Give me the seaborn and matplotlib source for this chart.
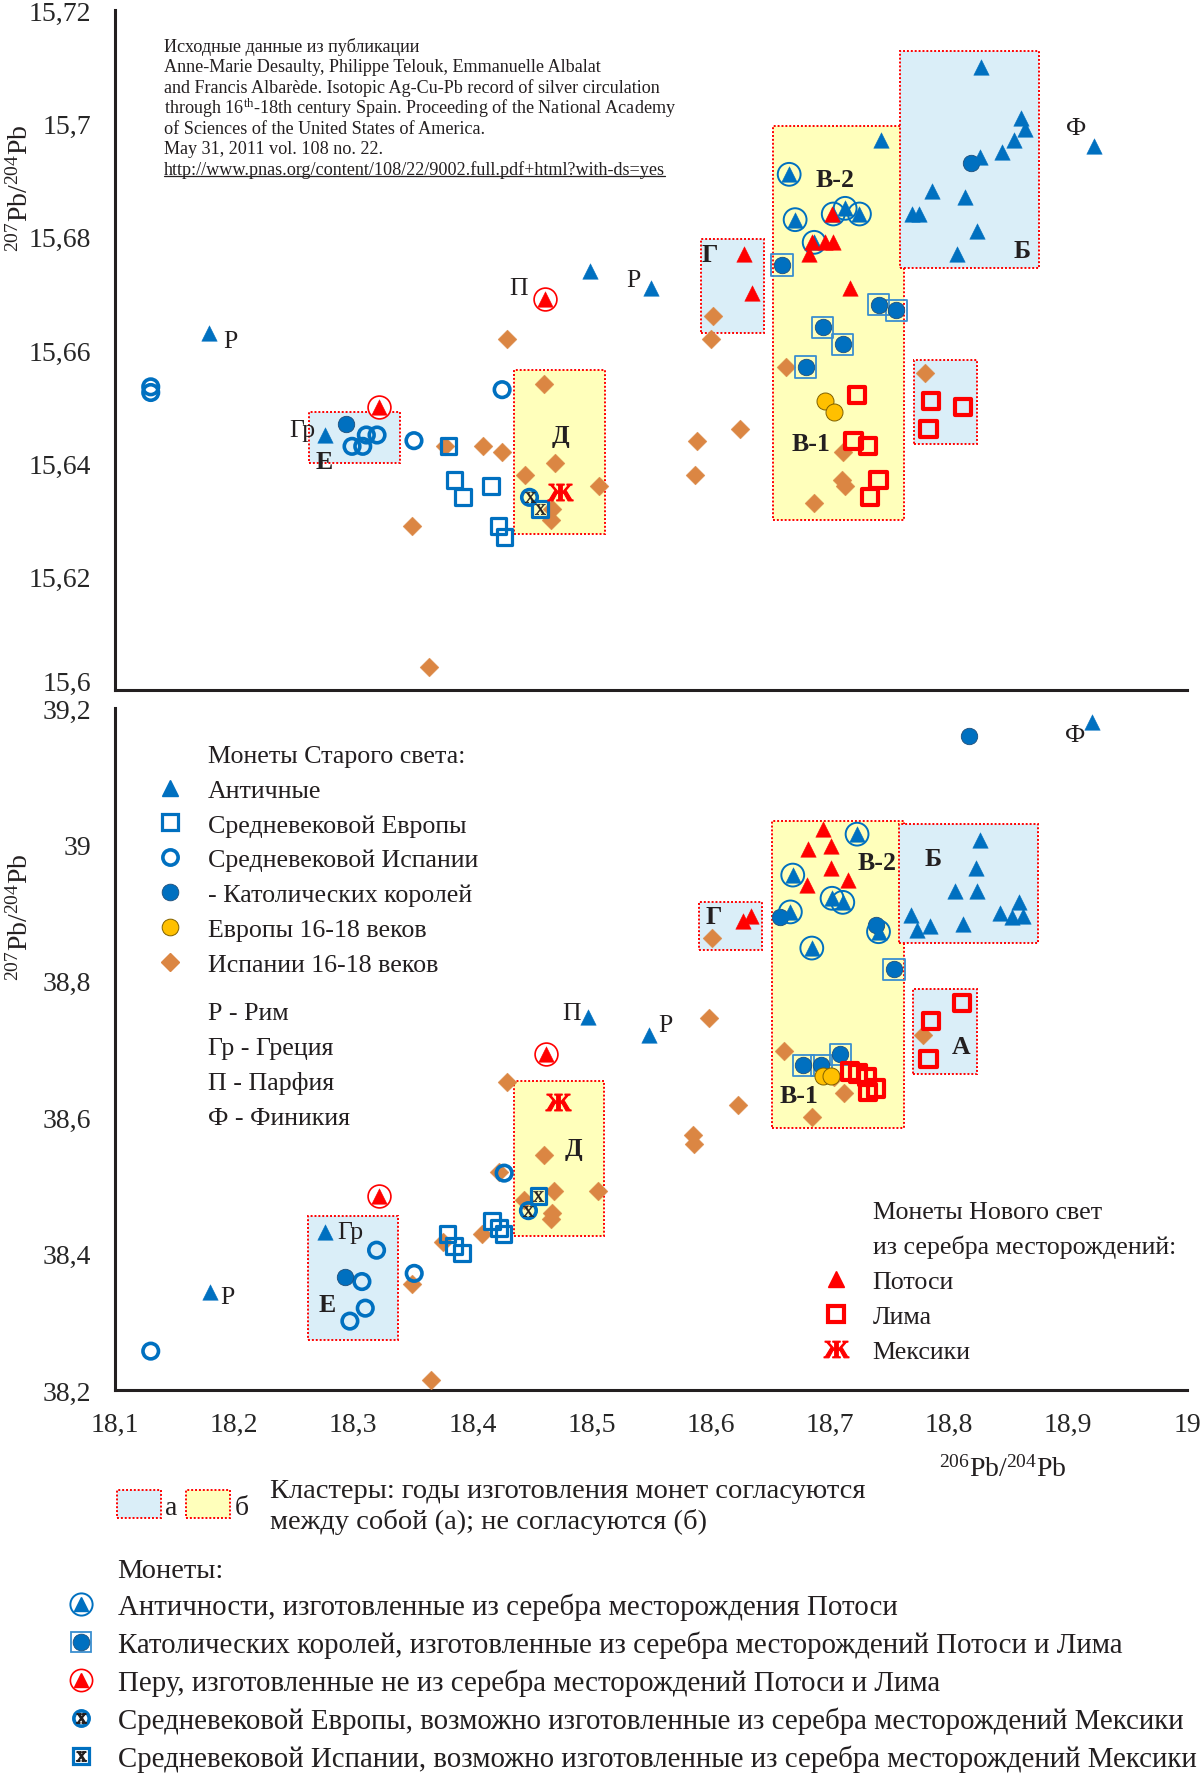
import pandas as pd
import seaborn as sns
import matplotlib.pyplot as plt
import matplotlib.transforms as mtransforms
from matplotlib.lines import Line2D
from matplotlib.patches import Rectangle, Patch

sns.set_theme(style="white")
plt.rcParams['font.family'] = ['Liberation Serif', 'DejaVu Serif']
plt.rcParams['mathtext.fontset'] = 'custom'
plt.rcParams['mathtext.rm'] = 'Liberation Serif'
plt.rcParams['mathtext.it'] = 'Liberation Serif:italic'
plt.rcParams['mathtext.bf'] = 'Liberation Serif:bold'
plt.rcParams['text.color'] = '#231f20'

BLUE = '#0070c0'
RED = '#ff0000'
ORANGE = '#db8643'
GOLD = '#ffc000'
BOX_A = '#daeef8'
BOX_B = '#ffffbb'
ZHE = '$\\mathbf{Ж}$'

# ---------------- upper panel: 207Pb/204Pb vs 206Pb/204Pb ----------------
up_ancient = [(18.179, 15.663), (18.276, 15.645), (18.499, 15.674), (18.550, 15.671),
              (18.743, 15.697), (18.827, 15.710), (18.861, 15.701), (18.864, 15.699),
              (18.855, 15.697), (18.845, 15.695), (18.826, 15.694), (18.786, 15.688),
              (18.814, 15.687), (18.769, 15.684), (18.775, 15.684), (18.824, 15.681),
              (18.807, 15.677), (18.922, 15.696)]
up_ancient_potosi = [(18.666, 15.691), (18.671, 15.683), (18.687, 15.679), (18.703, 15.684),
                     (18.713, 15.685), (18.725, 15.684)]
up_potosi = [(18.628, 15.677), (18.635, 15.670), (18.685, 15.679), (18.696, 15.679),
             (18.703, 15.679), (18.683, 15.677), (18.717, 15.671), (18.702, 15.684)]
up_peru = [(18.322, 15.650), (18.461, 15.669)]
up_catholic = [(18.294, 15.647), (18.819, 15.693)]
up_catholic_pl = [(18.660, 15.675), (18.741, 15.668), (18.756, 15.667), (18.694, 15.664),
                  (18.711, 15.661), (18.680, 15.657)]
up_europe16 = [(18.696, 15.651), (18.704, 15.649)]
up_med_spain = [(18.130, 15.6535), (18.130, 15.6525), (18.299, 15.643), (18.308, 15.643),
                (18.311, 15.645), (18.320, 15.645), (18.351, 15.644), (18.425, 15.653)]
up_med_spain_mex = [(18.448, 15.634)]
up_med_europe = [(18.380, 15.643), (18.385, 15.637), (18.392, 15.634), (18.416, 15.636),
                 (18.422, 15.629), (18.427, 15.627)]
up_med_europe_mex = [(18.457, 15.632)]
up_spain16 = [(18.377, 15.643), (18.409, 15.643), (18.425, 15.642), (18.349, 15.629),
              (18.460, 15.654), (18.469, 15.640), (18.444, 15.638), (18.506, 15.636),
              (18.467, 15.632), (18.466, 15.630), (18.364, 15.604), (18.429, 15.662),
              (18.602, 15.666), (18.600, 15.662), (18.663, 15.657), (18.625, 15.646),
              (18.589, 15.644), (18.587, 15.638), (18.711, 15.642), (18.710, 15.637),
              (18.713, 15.636), (18.687, 15.633), (18.780, 15.656)]
up_lima = [(18.723, 15.652), (18.720, 15.644), (18.732, 15.643), (18.741, 15.637),
           (18.734, 15.634), (18.785, 15.651), (18.812, 15.650), (18.783, 15.646)]
up_mexico = [(18.474, 15.635)]
# clusters: x0, x1, y0, y1, kind
up_boxes = [(18.2625, 18.339, 15.640, 15.649, 'a'), (18.435, 18.511, 15.6275, 15.6565, 'b'),
            (18.592, 18.645, 15.663, 15.6795, 'a'), (18.6525, 18.7625, 15.630, 15.6996, 'b'),
            (18.759, 18.876, 15.6745, 15.7128, 'a'), (18.7705, 18.824, 15.6434, 15.6583, 'a')]
up_labels = [(18.197, 15.6615, 'Р', False), (18.2575, 15.6459, 'Гр', False),
             (18.2757, 15.6404, 'Е', True), (18.439, 15.671, 'П', False),
             (18.535, 15.6724, 'Р', False), (18.9066, 15.6991, 'Ф', False),
             (18.5996, 15.6769, 'Г', True), (18.7043, 15.6901, 'В-2', True),
             (18.684, 15.6435, 'В-1', True), (18.8618, 15.6775, 'Б', True),
             (18.474, 15.645, 'Д', True)]

# ---------------- lower panel: 208Pb/204Pb vs 206Pb/204Pb ----------------
lo_ancient = [(18.180, 38.344), (18.2765, 38.431), (18.497, 38.747), (18.548, 38.720),
              (18.9206, 39.180), (18.826, 39.007), (18.823, 38.966), (18.805, 38.931),
              (18.824, 38.931), (18.768, 38.897), (18.773, 38.875), (18.784, 38.880),
              (18.812, 38.884), (18.843, 38.899), (18.859, 38.915), (18.853, 38.893),
              (18.862, 38.895)]
lo_ancient_potosi = [(18.723, 39.015), (18.669, 38.955), (18.702, 38.921), (18.711, 38.915),
                     (18.667, 38.901), (18.741, 38.872), (18.685, 38.848)]
lo_potosi = [(18.694, 39.022), (18.682, 38.993), (18.701, 38.997), (18.701, 38.966),
             (18.715, 38.948), (18.681, 38.941), (18.627, 38.888), (18.634, 38.895)]
lo_peru = [(18.3213, 38.484), (18.4617, 38.692)]
lo_catholic = [(18.2933, 38.365), (18.817, 39.159), (18.658, 38.894), (18.739, 38.882)]
lo_catholic_pl = [(18.754, 38.817), (18.709, 38.692), (18.693, 38.676), (18.678, 38.676)]
lo_europe16 = [(18.694, 38.660), (18.701, 38.660)]
lo_med_spain = [(18.130, 38.257), (18.3196, 38.405), (18.3073, 38.359), (18.3101, 38.320),
                (18.2972, 38.301), (18.3512, 38.371), (18.4267, 38.518)]
lo_med_spain_mex = [(18.4471, 38.463)]
lo_med_europe = [(18.3792, 38.429), (18.3848, 38.411), (18.391, 38.401), (18.4162, 38.448),
                 (18.4225, 38.438), (18.4262, 38.429)]
lo_med_europe_mex = [(18.4555, 38.485)]
lo_spain16 = [(18.349, 38.355), (18.3756, 38.417), (18.408, 38.429), (18.422, 38.519),
              (18.4288, 38.652), (18.4598, 38.544), (18.4687, 38.492), (18.5056, 38.492),
              (18.4435, 38.479), (18.4673, 38.460), (18.4659, 38.451), (18.3652, 38.215),
              (18.599, 38.746), (18.585, 38.574), (18.586, 38.561), (18.623, 38.618),
              (18.601, 38.863), (18.662, 38.697), (18.712, 38.636), (18.685, 38.600),
              (18.778, 38.721), (18.704, 38.659)]
lo_lima = [(18.717, 38.667), (18.724, 38.664), (18.731, 38.659), (18.732, 38.637),
           (18.739, 38.642), (18.811, 38.767), (18.785, 38.741), (18.783, 38.685)]
lo_mexico = [(18.4723, 38.623)]
lo_boxes = [(18.2617, 18.3378, 38.273, 38.4544, 'a'), (18.4346, 18.5107, 38.426, 38.653, 'b'),
            (18.590, 18.6436, 38.845, 38.915, 'a'), (18.652, 18.762, 38.584, 39.034, 'b'),
            (18.758, 18.875, 38.8552, 39.0293, 'a'), (18.770, 18.8235, 38.664, 38.788, 'a')]
lo_labels = [(18.1946, 38.336, 'Р', False), (18.298, 38.432, 'Гр', False),
             (18.2785, 38.326, 'Е', True), (18.4837, 38.753, 'П', False),
             (18.562, 38.735, 'Р', False), (18.906, 39.161, 'Ф', False),
             (18.603, 38.895, 'Г', True), (18.740, 38.973, 'В-2', True),
             (18.7868, 38.979, 'Б', True), (18.8106, 38.703, 'А', True),
             (18.6743, 38.632, 'В-1', True), (18.485, 38.554, 'Д', True)]

x_ticks = [18.1, 18.2, 18.3, 18.4, 18.5, 18.6, 18.7, 18.8, 18.9, 19.0]
x_ticklabels = ['18,1', '18,2', '18,3', '18,4', '18,5', '18,6', '18,7', '18,8', '18,9', '19']
up_yticks = [15.6, 15.62, 15.64, 15.66, 15.68, 15.7, 15.72]
up_yticklabels = ['15,6', '15,62', '15,64', '15,66', '15,68', '15,7', '15,72']
lo_yticks = [38.2, 38.4, 38.6, 38.8, 39.0, 39.2]
lo_yticklabels = ['38,2', '38,4', '38,6', '38,8', '39', '39,2']

ref_lines = ['Исходные данные из публикации',
             'Anne-Marie Desaulty, Philippe Telouk, Emmanuelle Albalat',
             'and Francis Albarède. Isotopic Ag-Cu-Pb record of silver circulation',
             'through 16$^{\\mathrm{th}}$-18th century Spain. Proceeding of the National Academy',
             'of Sciences of the United States of America.',
             'May 31, 2011 vol. 108 no. 22.',
             'http://www.pnas.org/content/108/22/9002.full.pdf+html?with-ds=yes']

# marker styles
ST = {
    'spain16': dict(marker='D', s=92, color=ORANGE, edgecolor=ORANGE, linewidth=0.3, zorder=3),
    'med_europe': dict(marker='s', s=130, color=BLUE, facecolor='none', edgecolor=BLUE, linewidth=2.3, zorder=4),
    'med_spain': dict(marker='o', s=125, color=BLUE, facecolor='none', edgecolor=BLUE, linewidth=2.6, zorder=4),
    'catholic': dict(marker='o', s=140, color=BLUE, edgecolor='#1f4e79', linewidth=0.6, zorder=5),
    'frame': dict(marker='s', s=230, color='#3a8fd0', facecolor='none', edgecolor='#3a8fd0', linewidth=1.3, zorder=5),
    'europe16': dict(marker='o', s=150, color=GOLD, edgecolor='#7f6000', linewidth=0.7, zorder=5),
    'lima': dict(marker='s', s=135, color=RED, facecolor='none', edgecolor=RED, linewidth=3.0, zorder=5),
    'ancient': dict(marker='^', s=125, color=BLUE, edgecolor=BLUE, linewidth=0.3, zorder=6),
    'ring': dict(marker='o', s=270, color=BLUE, facecolor='none', edgecolor=BLUE, linewidth=1.4, zorder=6),
    'potosi': dict(marker='^', s=125, color=RED, edgecolor=RED, linewidth=0.3, zorder=7),
    'red_ring': dict(marker='o', s=270, color=RED, facecolor='white', edgecolor=RED, linewidth=1.2, zorder=6),
    'mexico': dict(marker=ZHE, s=330, color=RED, edgecolor=RED, linewidth=0.8, zorder=7),
    'xmark': dict(marker='$\\mathrm{x}$', s=60, color='#231f20', edgecolor='#231f20', linewidth=0.3, zorder=8),
}


def draw(ax, data, style):
    df = pd.DataFrame(data, columns=['x', 'y'])
    sns.scatterplot(data=df, x='x', y='y', ax=ax, legend=False, **ST[style])


def panel(ax, d, boxes, labels):
    for x0, x1, y0, y1, kind in boxes:
        ax.add_patch(Rectangle((x0, y0), x1 - x0, y1 - y0, facecolor=BOX_A if kind == 'a' else BOX_B,
                               edgecolor=RED, linestyle=(0, (1, 1)), linewidth=1.4, zorder=1))
    draw(ax, d['spain16'], 'spain16')
    draw(ax, d['med_europe'] + d['med_europe_mex'], 'med_europe')
    draw(ax, d['med_spain'] + d['med_spain_mex'], 'med_spain')
    draw(ax, d['catholic_pl'], 'frame')
    draw(ax, d['catholic'] + d['catholic_pl'], 'catholic')
    draw(ax, d['europe16'], 'europe16')
    draw(ax, d['lima'], 'lima')
    draw(ax, d['ancient_potosi'], 'ring')
    draw(ax, d['ancient'] + d['ancient_potosi'], 'ancient')
    draw(ax, d['peru'], 'red_ring')
    draw(ax, d['potosi'] + d['peru'], 'potosi')
    draw(ax, d['mexico'], 'mexico')
    draw(ax, d['med_spain_mex'] + d['med_europe_mex'], 'xmark')
    for x, y, t, b in labels:
        ax.text(x, y, t, ha='center', va='center', fontsize=18.5,
                fontweight='bold' if b else 'normal', zorder=9)
    ax.set_xlim(18.1, 19.0)
    ax.set_xticks(x_ticks)
    ax.set_xlabel('')
    ax.set_ylabel('')
    for s in ('top', 'right'):
        ax.spines[s].set_visible(False)
    for s in ('left', 'bottom'):
        ax.spines[s].set_color('#231f20')
        ax.spines[s].set_linewidth(2.2)


W, H = 1200, 1774
fig = plt.figure(figsize=(12, 17.74), dpi=100)


def fx(px):
    return px / W


def fy(py):
    return 1 - py / H


ax_up = fig.add_axes([fx(115), fy(691), 1072 / W, (691 - 11) / H])
ax_lo = fig.add_axes([fx(115), fy(1391), 1072 / W, (1391 - 709) / H])

up = dict(ancient=up_ancient, ancient_potosi=up_ancient_potosi, potosi=up_potosi, peru=up_peru,
          catholic=up_catholic, catholic_pl=up_catholic_pl, europe16=up_europe16,
          med_spain=up_med_spain, med_spain_mex=up_med_spain_mex, med_europe=up_med_europe,
          med_europe_mex=up_med_europe_mex, spain16=up_spain16, lima=up_lima, mexico=up_mexico)
lo = dict(ancient=lo_ancient, ancient_potosi=lo_ancient_potosi, potosi=lo_potosi, peru=lo_peru,
          catholic=lo_catholic, catholic_pl=lo_catholic_pl, europe16=lo_europe16,
          med_spain=lo_med_spain, med_spain_mex=lo_med_spain_mex, med_europe=lo_med_europe,
          med_europe_mex=lo_med_europe_mex, spain16=lo_spain16, lima=lo_lima, mexico=lo_mexico)

panel(ax_up, up, up_boxes, up_labels)
panel(ax_lo, lo, lo_boxes, lo_labels)

ax_up.set_ylim(15.6, 15.72)
ax_up.set_yticks(up_yticks)
ax_up.set_yticklabels(up_yticklabels)
ax_up.tick_params(axis='x', direction='inout', length=9, width=2, labelbottom=False, color='#231f20')
ax_up.tick_params(axis='y', direction='out', length=7, width=2, labelsize=20, pad=10, color='#231f20')
# nudge the lowest label so it does not collide with the lower panel
off = mtransforms.ScaledTranslation(0, 10 / 100, fig.dpi_scale_trans)
lab = ax_up.get_yticklabels()[0]
lab.set_transform(lab.get_transform() + off)

ax_lo.set_ylim(38.2, 39.2)
ax_lo.set_yticks(lo_yticks)
ax_lo.set_yticklabels(lo_yticklabels)
ax_lo.set_xticklabels(x_ticklabels)
ax_lo.tick_params(axis='x', direction='out', length=8, width=2, labelsize=20, pad=8, color='#231f20')
ax_lo.tick_params(axis='y', direction='out', length=7, width=2, labelsize=20, pad=10, color='#231f20')

# axis titles
fig.text(fx(20), fy(188), r'$^{207}$Pb/$^{204}$Pb', rotation=90, ha='center', va='center', fontsize=20)
fig.text(fx(20), fy(917), r'$^{207}$Pb/$^{204}$Pb', rotation=90, ha='center', va='center', fontsize=20)
fig.text(fx(1003), fy(1469), r'$^{206}$Pb/$^{204}$Pb', ha='center', va='center', fontsize=20)

# source note
url_txt = None
for i, line in enumerate(ref_lines):
    url_txt = fig.text(fx(163.5), fy(47 + i * 20.5), line, ha='left', va='center', fontsize=13.1)

# old world legend
fig.text(fx(208), fy(757), 'Монеты Старого света:', ha='left', va='center', fontsize=18.7)
old_handles = [
    Line2D([], [], ls='none', marker='^', ms=11, color=BLUE),
    Line2D([], [], ls='none', marker='s', ms=11.5, mfc='none', mec=BLUE, mew=2.3),
    Line2D([], [], ls='none', marker='o', ms=11, mfc='none', mec=BLUE, mew=2.6),
    Line2D([], [], ls='none', marker='o', ms=12, mfc=BLUE, mec='#1f4e79', mew=0.6),
    Line2D([], [], ls='none', marker='o', ms=12, mfc=GOLD, mec='#7f6000', mew=0.7),
    Line2D([], [], ls='none', marker='D', ms=9.5, color=ORANGE),
]
old_labels = ['Античные', 'Средневековой Европы', 'Средневековой Испании',
              '- Католических королей', 'Европы 16-18 веков', 'Испании 16-18 веков']
fig.legend(old_handles, old_labels, loc='upper left', bbox_to_anchor=(fx(157), fy(779.5)),
           frameon=False, fontsize=18.7, handlelength=1.0, handletextpad=0.95,
           labelspacing=0.45, borderpad=0, borderaxespad=0)
for i, t in enumerate(['Р - Рим', 'Гр - Греция', 'П - Парфия', 'Ф - Финикия']):
    fig.text(fx(208), fy(1014.5 + i * 34.7), t, ha='left', va='center', fontsize=18.7)

# new world legend
fig.text(fx(872.7), fy(1213), 'Монеты Нового свет', ha='left', va='center', fontsize=18.7)
fig.text(fx(872.7), fy(1247), 'из серебра месторождений:', ha='left', va='center', fontsize=18.7)
new_handles = [
    Line2D([], [], ls='none', marker='^', ms=11, color=RED),
    Line2D([], [], ls='none', marker='s', ms=12, mfc='none', mec=RED, mew=3),
    Line2D([], [], ls='none', marker=ZHE, ms=18, color=RED, mew=0.8),
]
fig.legend(new_handles, ['Потоси', 'Лима', 'Мексики'], loc='upper left',
           bbox_to_anchor=(fx(823), fy(1271)), frameon=False, fontsize=18.7,
           handlelength=1.0, handletextpad=0.9, labelspacing=0.45, borderpad=0, borderaxespad=0)

# cluster legend
box_handles = [Patch(facecolor=BOX_A, edgecolor=RED, linestyle=(0, (1, 1)), linewidth=1.4),
               Patch(facecolor=BOX_B, edgecolor=RED, linestyle=(0, (1, 1)), linewidth=1.4)]
fig.legend(box_handles, ['а', 'б'], loc='upper left', bbox_to_anchor=(fx(116.6), fy(1491)),
           ncol=2, frameon=False, fontsize=20, handlelength=1.6, handleheight=1.2,
           handletextpad=0.15, columnspacing=0.3, borderpad=0, borderaxespad=0)
fig.text(fx(270.5), fy(1492), 'Кластеры: годы изготовления монет согласуются',
         ha='left', va='center', fontsize=20.5)
fig.text(fx(270.5), fy(1522), 'между собой (а); не согласуются (б)',
         ha='left', va='center', fontsize=20.5)

# special coins legend
fig.text(fx(117.4), fy(1572), 'Монеты:', ha='left', va='center', fontsize=20.5)
spec_handles = [
    (Line2D([], [], ls='none', marker='o', ms=16, mfc='none', mec=BLUE, mew=1.4),
     Line2D([], [], ls='none', marker='^', ms=10, color=BLUE)),
    (Line2D([], [], ls='none', marker='s', ms=15, mfc='none', mec='#3a8fd0', mew=1.3),
     Line2D([], [], ls='none', marker='o', ms=12, mfc=BLUE, mec='#1f4e79', mew=0.6)),
    (Line2D([], [], ls='none', marker='o', ms=16, mfc='white', mec=RED, mew=1.2),
     Line2D([], [], ls='none', marker='^', ms=10, color=RED)),
    (Line2D([], [], ls='none', marker='o', ms=11, mfc='none', mec=BLUE, mew=2.6),
     Line2D([], [], ls='none', marker='$\\mathrm{x}$', ms=7, color='#231f20')),
    (Line2D([], [], ls='none', marker='s', ms=11.5, mfc='none', mec=BLUE, mew=2.3),
     Line2D([], [], ls='none', marker='$\\mathrm{x}$', ms=7, color='#231f20')),
]
spec_labels = ['Античности, изготовленные из серебра месторождения Потоси',
               'Католических королей, изготовленные из серебра месторождений Потоси и Лима',
               'Перу, изготовленные не из серебра месторождений Потоси и Лима',
               'Средневековой Европы, возможно изготовленные из серебра месторождений Мексики',
               'Средневековой Испании, возможно изготовленные из серебра месторождений Мексики']
fig.legend(spec_handles, spec_labels, loc='upper left', bbox_to_anchor=(fx(67), fy(1594)),
           frameon=False, fontsize=20.8, handlelength=1.0, handletextpad=0.78,
           labelspacing=0.36, borderpad=0, borderaxespad=0)

# underline the link
fig.canvas.draw()
bb = url_txt.get_window_extent(fig.canvas.get_renderer())
fig.add_artist(Line2D([bb.x0 / W, bb.x1 / W], [(bb.y0 + 2) / H] * 2,
                      transform=fig.transFigure, color='#231f20', lw=0.9))

fig.savefig('out.png', dpi=100)
